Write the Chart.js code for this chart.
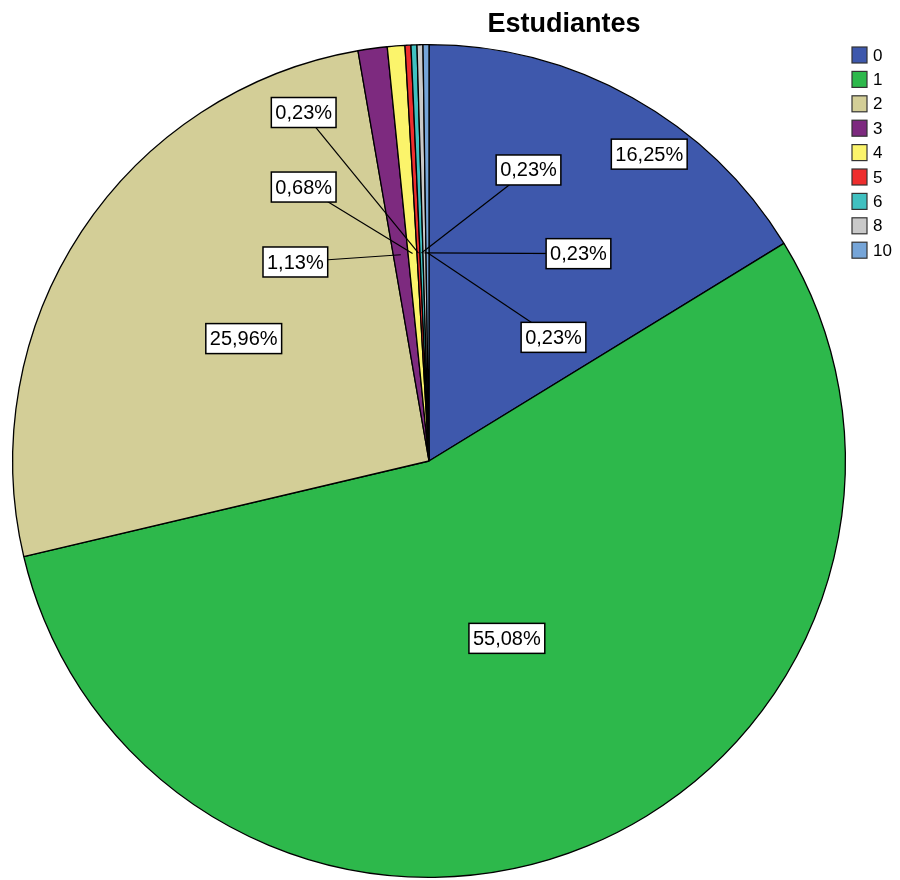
<!DOCTYPE html>
<html><head><meta charset="utf-8">
<script src="https://cdn.jsdelivr.net/npm/chart.js@4.4.0/dist/chart.umd.min.js"></script>
<style>html,body{margin:0;padding:0;background:#fff;} #wrap{width:900px;height:880px;position:relative;}</style>
</head><body><div id="wrap"><canvas id="c" width="900" height="880"></canvas></div>
<script>
const chartTitle = 'Estudiantes';
const categories = ['0', '1', '2', '3', '4', '5', '6', '8', '10'];
const percentages = [16.25, 55.08, 25.96, 1.13, 0.68, 0.23, 0.23, 0.23, 0.23];
const sliceColors = ['#3E58AC', '#2DB84B', '#D3CE97', '#7D2A7F', '#FBF46B', '#EE2E2E', '#40C0C0', '#C9C9C9', '#76A5D8'];
// label box centres, as fractions of the pie radius from the centre
const labelOffsets = [[0.529, -0.737], [0.187, 0.426], [-0.445, -0.294], [-0.321, -0.478], [-0.301, -0.658], [-0.301, -0.837], [0.239, -0.699], [0.359, -0.498], [0.299, -0.297]];
const hasLeader = [false, false, false, true, true, true, true, true, true];

const fmt = v => v.toFixed(2).replace('.', ',') + '%';

const overlay = {
  id: 'overlay',
  afterDatasetsDraw(chart) {
    const ctx = chart.ctx;
    const meta = chart.getDatasetMeta(0);
    const data = chart.data.datasets[0].data;
    ctx.save();
    const items = meta.data.map((arc, i) => {
      const p = arc.getProps(['x', 'y', 'startAngle', 'endAngle', 'outerRadius'], true);
      const mid = (p.startAngle + p.endAngle) / 2;
      const R = p.outerRadius;
      return {
        ax: p.x + Math.cos(mid) * R * 0.5,
        ay: p.y + Math.sin(mid) * R * 0.5,
        cx: p.x + labelOffsets[i][0] * R,
        cy: p.y + labelOffsets[i][1] * R,
        text: fmt(data[i]), leader: hasLeader[i]
      };
    });
    ctx.strokeStyle = '#000';
    ctx.lineWidth = 1.2;
    items.forEach(it => {
      if (!it.leader) return;
      ctx.beginPath(); ctx.moveTo(it.cx, it.cy); ctx.lineTo(it.ax, it.ay); ctx.stroke();
    });
    ctx.font = '20px "Liberation Sans", Arial, sans-serif';
    ctx.textAlign = 'center'; ctx.textBaseline = 'middle';
    items.forEach(it => {
      const w = ctx.measureText(it.text).width + 8, h = 30;
      ctx.fillStyle = '#fff';
      ctx.fillRect(it.cx - w / 2, it.cy - h / 2, w, h);
      ctx.lineWidth = 1.5; ctx.strokeStyle = '#000';
      ctx.strokeRect(it.cx - w / 2, it.cy - h / 2, w, h);
      ctx.fillStyle = '#000';
      ctx.fillText(it.text, it.cx, it.cy + 1);
    });
    ctx.font = 'bold 27px "Liberation Sans", Arial, sans-serif';
    ctx.fillStyle = '#000';
    ctx.fillText(chartTitle, 564, 25);
    ctx.font = '17px "Liberation Sans", Arial, sans-serif';
    ctx.textAlign = 'left';
    chart.data.labels.forEach((lab, i) => {
      const y = 55 + i * 24.4;
      ctx.fillStyle = sliceColors[i];
      ctx.fillRect(852, y - 8, 15, 16);
      ctx.lineWidth = 1.2; ctx.strokeStyle = '#333';
      ctx.strokeRect(852, y - 8, 15, 16);
      ctx.fillStyle = '#000';
      ctx.fillText(lab, 873, y + 1);
    });
    ctx.restore();
  }
};

new Chart(document.getElementById('c'), {
  type: 'pie',
  data: {
    labels: categories,
    datasets: [{ data: percentages, backgroundColor: sliceColors, borderColor: '#000', borderWidth: 1.3 }]
  },
  options: {
    responsive: false,
    animation: false,
    devicePixelRatio: 1,
    layout: { padding: { top: 44, left: 12, right: 54, bottom: 2 } },
    plugins: { legend: { display: false }, tooltip: { enabled: false }, title: { display: false } }
  },
  plugins: [overlay]
});
</script></body></html>
